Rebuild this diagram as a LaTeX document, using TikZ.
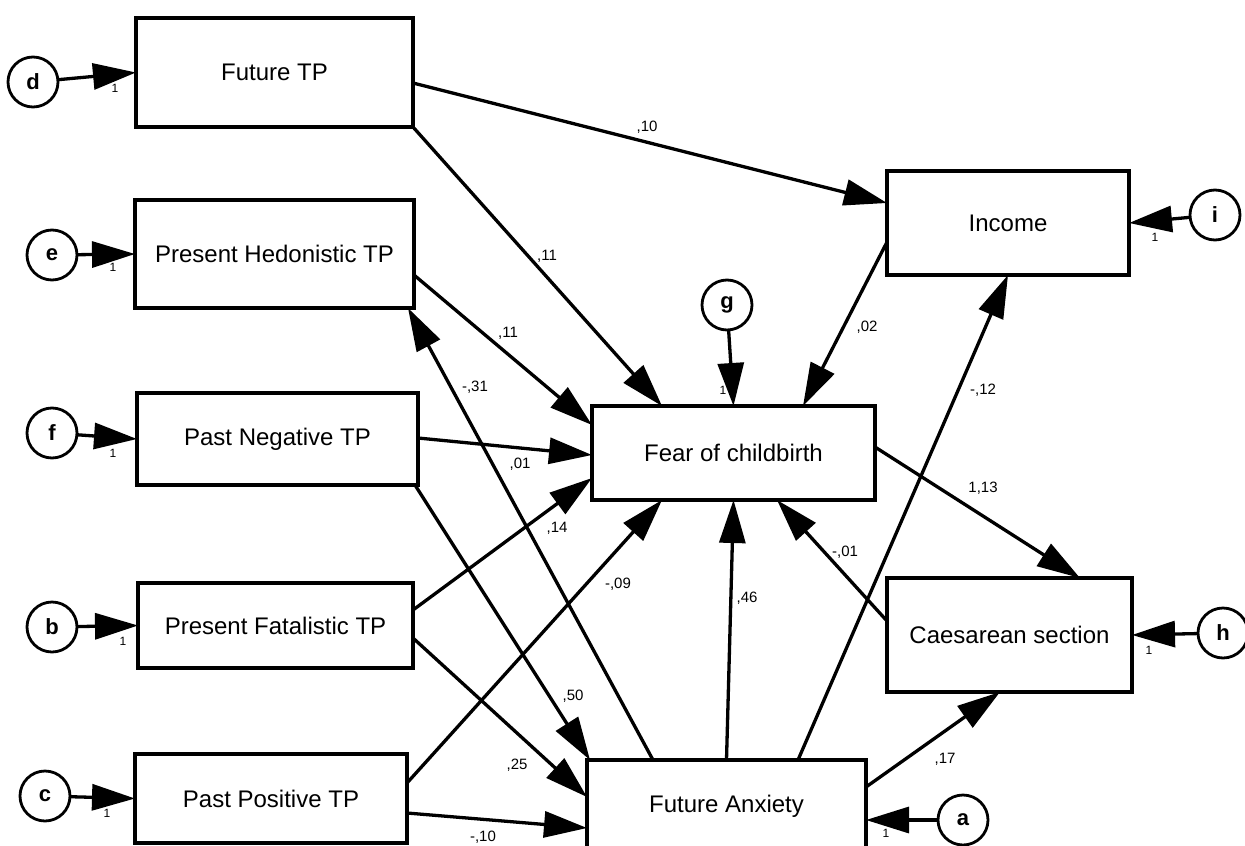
\documentclass[tikz,border=0pt]{standalone}
\usepackage{fontspec}
\setmainfont{Liberation Sans}
\usetikzlibrary{arrows.meta}
\tikzset{
  obs/.style={draw,line width=3.2pt,inner sep=0pt,outer sep=0pt,font=\fontsize{24}{28}\selectfont},
  err/.style={circle,draw,line width=2.8pt,minimum size=50pt,inner sep=0pt,outer sep=0pt,font=\bfseries\fontsize{22}{26}\selectfont},
  conn/.style={line width=3.3pt,-{Triangle[length=43pt,width=26pt]}},
  coef/.style={font=\fontsize{15}{18}\selectfont,inner sep=0pt},
  one/.style={font=\fontsize{12}{14}\selectfont,inner sep=0pt}
}
\begin{document}
\begin{tikzpicture}[x=1pt,y=-1pt]
\useasboundingbox[fill=white] (0,0) rectangle (1245,846);
% observed boxes
\node[obs,minimum width=277pt,minimum height=109pt] (ftp) at (274.5,72.5) {Future TP};
\node[obs,minimum width=279pt,minimum height=108pt] (phd) at (274.5,254) {Present Hedonistic TP};
\node[obs,minimum width=281pt,minimum height=92pt] (pn) at (277.5,439) {Past Negative TP};
\node[obs,minimum width=275pt,minimum height=85pt] (pf) at (275.5,625.5) {Present Fatalistic TP};
\node[obs,minimum width=272pt,minimum height=89pt] (pp) at (271,798.5) {Past Positive TP};
\node[obs,minimum width=283pt,minimum height=94pt] (fear) at (733.5,453) {Fear of childbirth};
\node[obs,minimum width=279pt,minimum height=92pt] (fa) at (726.5,806) {Future Anxiety};
\node[obs,minimum width=242pt,minimum height=104pt] (inc) at (1008,223) {Income};
\node[obs,minimum width=245pt,minimum height=114pt] (cs) at (1009.5,635) {Caesarean section};
% error terms
\node[err] (d) at (33,82) {d};
\node[err] (e) at (52,255) {e};
\node[err] (f) at (52,433) {f};
\node[err] (b) at (52,627) {b};
\node[err] (c) at (45,796) {c};
\node[err] (g) at (727,305) {g};
\node[err] (i) at (1215,215) {i};
\node[err] (h) at (1223,633) {h};
\node[err] (a) at (963,820) {a};
% error arrows
\draw[conn] (d) -- (ftp.west);
\draw[conn] (e) -- (phd.west);
\draw[conn] (f) -- (pn.west);
\draw[conn] (b) -- (pf.west);
\draw[conn] (c) -- (pp.west);
\draw[conn] (g) -- (fear.north);
\draw[conn] (i) -- (inc.east);
\draw[conn] (h) -- (cs.east);
\draw[conn] (a) -- ([yshift=-14pt]fa.east);
\node[one] (o1) at (115,88) {1};
\node[one] (o2) at (113,267) {1};
\node[one] (o3) at (113,453) {1};
\node[one] (o4) at (123,641) {1};
\node[one] (o5) at (107,813) {1};
\node[one] (o6) at (723,390) {1};
\node[one] (o7) at (1155,237) {1};
\node[one] (o8) at (1149,650) {1};
\node[one] (o9) at (886,833) {1};
% structural paths
\draw[conn] ([yshift=-10.5pt]ftp.east) -- ([yshift=20pt]inc.west);
\draw[conn] (ftp.south east) -- ([xshift=-71.5pt]fear.north);
\draw[conn] ([yshift=-21pt]phd.east) -- ([yshift=28pt]fear.west);
\draw[conn] ([xshift=-73.5pt]fa.north) -- ([xshift=-6pt]phd.south east);
\draw[conn] ([yshift=1pt]pn.east) -- ([yshift=-2pt]fear.west);
\draw[conn] ([yshift=15.5pt]pf.east) -- ([yshift=-25pt]fear.west);
\draw[conn] ([yshift=15.5pt]pp.east) -- ([xshift=-71.5pt]fear.south);
\draw[conn] (fa.north) -- (fear.south);
\draw[conn] ([yshift=14pt]cs.west) -- ([xshift=43.5pt]fear.south);
\draw[conn] ([yshift=6pt]fear.east) -- ([xshift=70.5pt]cs.north);
\draw[conn] ([xshift=71.5pt]fa.north) -- (inc.south);
\draw[conn] ([yshift=-19pt]inc.west) -- ([xshift=69.5pt]fear.north);
\draw[conn] ([xshift=-3pt]pn.south east) -- ([xshift=3pt]fa.north west);
\draw[conn] ([yshift=-12.5pt]pf.east) -- ([yshift=9pt]fa.west);
\draw[conn] ([yshift=-14.5pt]pp.east) -- ([yshift=-22pt]fa.west);
\draw[conn] ([yshift=19pt]fa.east) -- ([xshift=-9.5pt]cs.south);
% coefficients
\node[coef] (k1) at (647,127) {,10};
\node[coef] (k2) at (547,256) {,11};
\node[coef] (k3) at (508,333) {,11};
\node[coef] (k4) at (475,387) {-,31};
\node[coef] (k5) at (520,464) {,01};
\node[coef] (k6) at (557,528) {,14};
\node[coef] (k7) at (618,584) {-,09};
\node[coef] (k8) at (747,598) {,46};
\node[coef] (k9) at (845,552) {-,01};
\node[coef] (k10) at (983,488) {1,13};
\node[coef] (k11) at (983,390) {-,12};
\node[coef] (k12) at (867,327) {,02};
\node[coef] (k13) at (573,696) {,50};
\node[coef] (k14) at (517,765) {,25};
\node[coef] (k15) at (483,837) {-,10};
\node[coef] (k16) at (945,759) {,17};
\end{tikzpicture}
\end{document}
